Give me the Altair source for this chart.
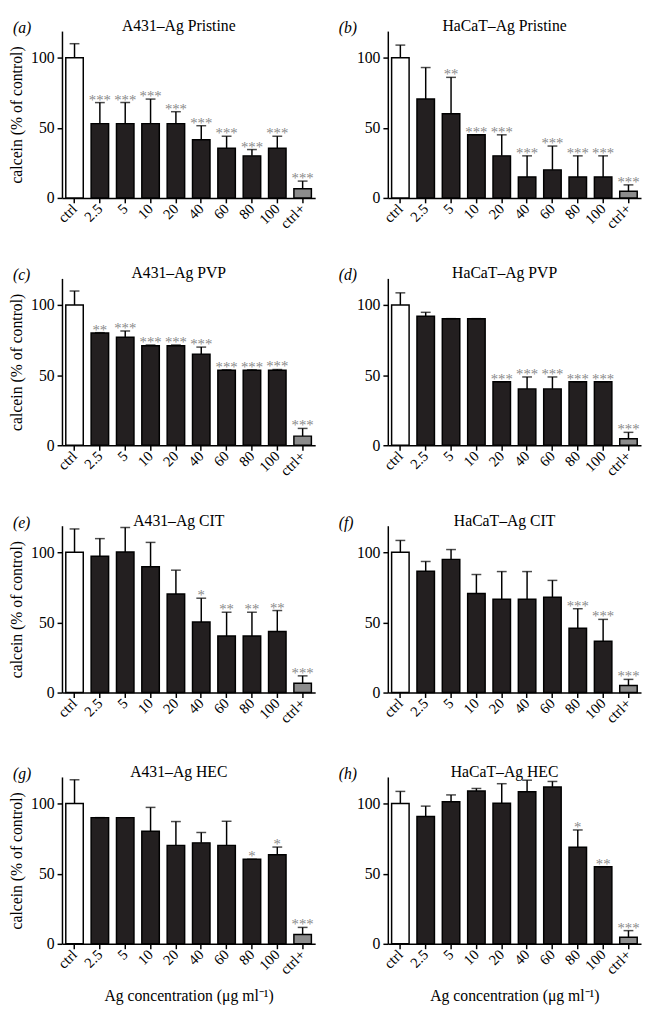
import altair as alt
import pandas as pd

categories = ["ctrl", "2.5", "5", "10", "20", "40", "60", "80", "100", "ctrl+"]
groups = ["control", "Ag", "Ag", "Ag", "Ag", "Ag", "Ag", "Ag", "Ag", "positive"]

a_mean = [100, 53, 53, 53, 53, 41.5, 35.5, 30, 35.5, 6.5]
a_sd = [10, 15, 15, 17.5, 8.5, 10, 8.5, 4.5, 8.5, 5.5]
a_stars = ["", "***", "***", "***", "***", "***", "***", "***", "***", "***"]

b_mean = [100, 70.5, 60, 45, 30, 15, 20, 15, 15, 4.8]
b_sd = [9, 22.5, 26, 0, 15, 15, 17, 15, 15, 4.5]
b_stars = ["", "", "**", "***", "***", "***", "***", "***", "***", "***"]

c_mean = [100, 80, 77, 71, 71, 65, 53.5, 53.5, 53.5, 6.5]
c_sd = [10, 0.3, 4.5, 0.5, 0.5, 5, 0.3, 0.3, 0.5, 5.5]
c_stars = ["", "**", "***", "***", "***", "***", "***", "***", "***", "***"]

d_mean = [100, 92, 90.3, 90.3, 45.3, 40.2, 40.2, 45.3, 45.3, 4.6]
d_sd = [8.7, 2.8, 0, 0, 0, 8.5, 8.5, 0, 0, 4.6]
d_stars = ["", "", "", "", "***", "***", "***", "***", "***", "***"]

e_mean = [100, 97.3, 100.2, 89.7, 70.3, 50.3, 40.3, 40.3, 43.5, 6.6]
e_sd = [16.7, 12.5, 17.6, 17.4, 17, 17, 17, 17, 15, 5.3]
e_stars = ["", "", "", "", "", "*", "**", "**", "**", "***"]

f_mean = [100, 86.5, 95, 70.7, 66.6, 66.6, 68, 45.8, 36.6, 5]
f_sd = [8.5, 7, 7, 13.5, 19.7, 19.7, 12, 14, 15.6, 4.4]
f_stars = ["", "", "", "", "", "", "", "***", "***", "***"]

g_mean = [100, 90, 90, 80.3, 70.2, 72, 70.2, 60.3, 63.5, 6.7]
g_sd = [17, 0, 0, 17, 17, 7.4, 17.2, 0, 5.5, 5]
g_stars = ["", "", "", "", "", "", "", "*", "*", "***"]

h_mean = [100, 90.8, 101.4, 109, 100.2, 108.5, 111.9, 68.8, 55, 4.6]
h_sd = [8.7, 7.4, 4.8, 1.8, 14, 8.2, 3.9, 12.4, 0, 4.8]
h_stars = ["", "", "", "", "", "", "", "*", "**", "***"]

panel_letters = ["(a)", "(b)", "(c)", "(d)", "(e)", "(f)", "(g)", "(h)"]
panel_titles = ["A431–Ag Pristine", "HaCaT–Ag Pristine", "A431–Ag PVP", "HaCaT–Ag PVP",
                "A431–Ag CIT", "HaCaT–Ag CIT", "A431–Ag HEC", "HaCaT–Ag HEC"]
panel_data = [(a_mean, a_sd, a_stars), (b_mean, b_sd, b_stars), (c_mean, c_sd, c_stars),
              (d_mean, d_sd, d_stars), (e_mean, e_sd, e_stars), (f_mean, f_sd, f_stars),
              (g_mean, g_sd, g_stars), (h_mean, h_sd, h_stars)]

y_title = "calcein (% of control)"
x_title = "Ag concentration (μg ml⁻¹)"

FONT = "Liberation Serif"
W, H = 258, 170


def make_panel(letter, title, mean, sd, stars, left, bottom):
    df = pd.DataFrame({
        "cat": categories,
        "group": groups,
        "mean": mean,
        "top": [m + s for m, s in zip(mean, sd)],
        "stars": stars,
    })
    xaxis_kw = dict(labelAngle=-45, labelAlign="right", labelBaseline="middle",
                    labelFontSize=15, labelPadding=3, tickSize=5,
                    labelFont=FONT, titleFont=FONT)
    if bottom:
        xaxis_kw.update(title=x_title, titlePadding=11)
    else:
        xaxis_kw.update(title=None)
    x = alt.X("cat:N", sort=categories,
              scale=alt.Scale(paddingInner=0.31, paddingOuter=0.15),
              axis=alt.Axis(**xaxis_kw))
    yscale = alt.Scale(domain=[0, 119], nice=False)
    yaxis = alt.Axis(values=[0, 50, 100], title=y_title if left else None,
                     titlePadding=6, labelPadding=3, labelFont=FONT, titleFont=FONT)

    base = alt.Chart(df).encode(x=x)
    bars = base.mark_bar(stroke="black", strokeWidth=1.5).encode(
        y=alt.Y("mean:Q", scale=yscale, axis=yaxis),
        color=alt.Color("group:N", legend=None,
                        scale=alt.Scale(domain=["control", "Ag", "positive"],
                                        range=["#ffffff", "#231f20", "#8c8c8c"])),
    )
    stem = base.mark_rule(color="black", strokeWidth=1.5).encode(
        y=alt.Y("mean:Q", scale=yscale, axis=yaxis), y2="top:Q")
    cap = base.mark_tick(color="black", thickness=1.5, size=10).encode(
        y=alt.Y("top:Q", scale=yscale, axis=yaxis))
    star = base.mark_text(font=FONT, fontSize=15, color="#8a8a8a",
                          baseline="alphabetic", dy=2).encode(
        y=alt.Y("top:Q", scale=yscale, axis=yaxis), text="stars:N")
    head = pd.DataFrame({"letter": [letter], "title": [title]})
    lab = alt.Chart(head).mark_text(
        font=FONT, fontSize=16, fontStyle="italic", align="left",
        baseline="alphabetic", color="black").encode(
        x=alt.value(-50), y=alt.value(2), text="letter:N")
    ttl = alt.Chart(head).mark_text(
        font=FONT, fontSize=16, align="center",
        baseline="alphabetic", color="black").encode(
        x=alt.value(W / 2 - 10), y=alt.value(0), text="title:N")

    return alt.layer(stem, bars, cap, star, lab, ttl).properties(width=W, height=H)


panels = []
for i in range(8):
    m, s, st = panel_data[i]
    panels.append(make_panel(panel_letters[i], panel_titles[i], m, s, st,
                             left=(i % 2 == 0), bottom=(i >= 6)))

rows = [alt.hconcat(panels[2 * r], panels[2 * r + 1], spacing=22) for r in range(4)]
top3 = alt.vconcat(rows[0], rows[1], rows[2], spacing=33)
chart = alt.vconcat(top3, rows[3], spacing=37).properties(padding=0)

chart = chart.configure_axis(
    labelFont=FONT, titleFont=FONT, labelFontSize=16, titleFontSize=16,
    titleFontWeight="normal", labelColor="black", titleColor="black",
    domainColor="black", tickColor="black", domainWidth=1.5, tickWidth=1.5,
    grid=False, tickSize=5,
).configure_view(stroke="transparent").configure_concat(spacing=22)

chart.save("out.html", embed_options={"renderer": "svg", "actions": False})
